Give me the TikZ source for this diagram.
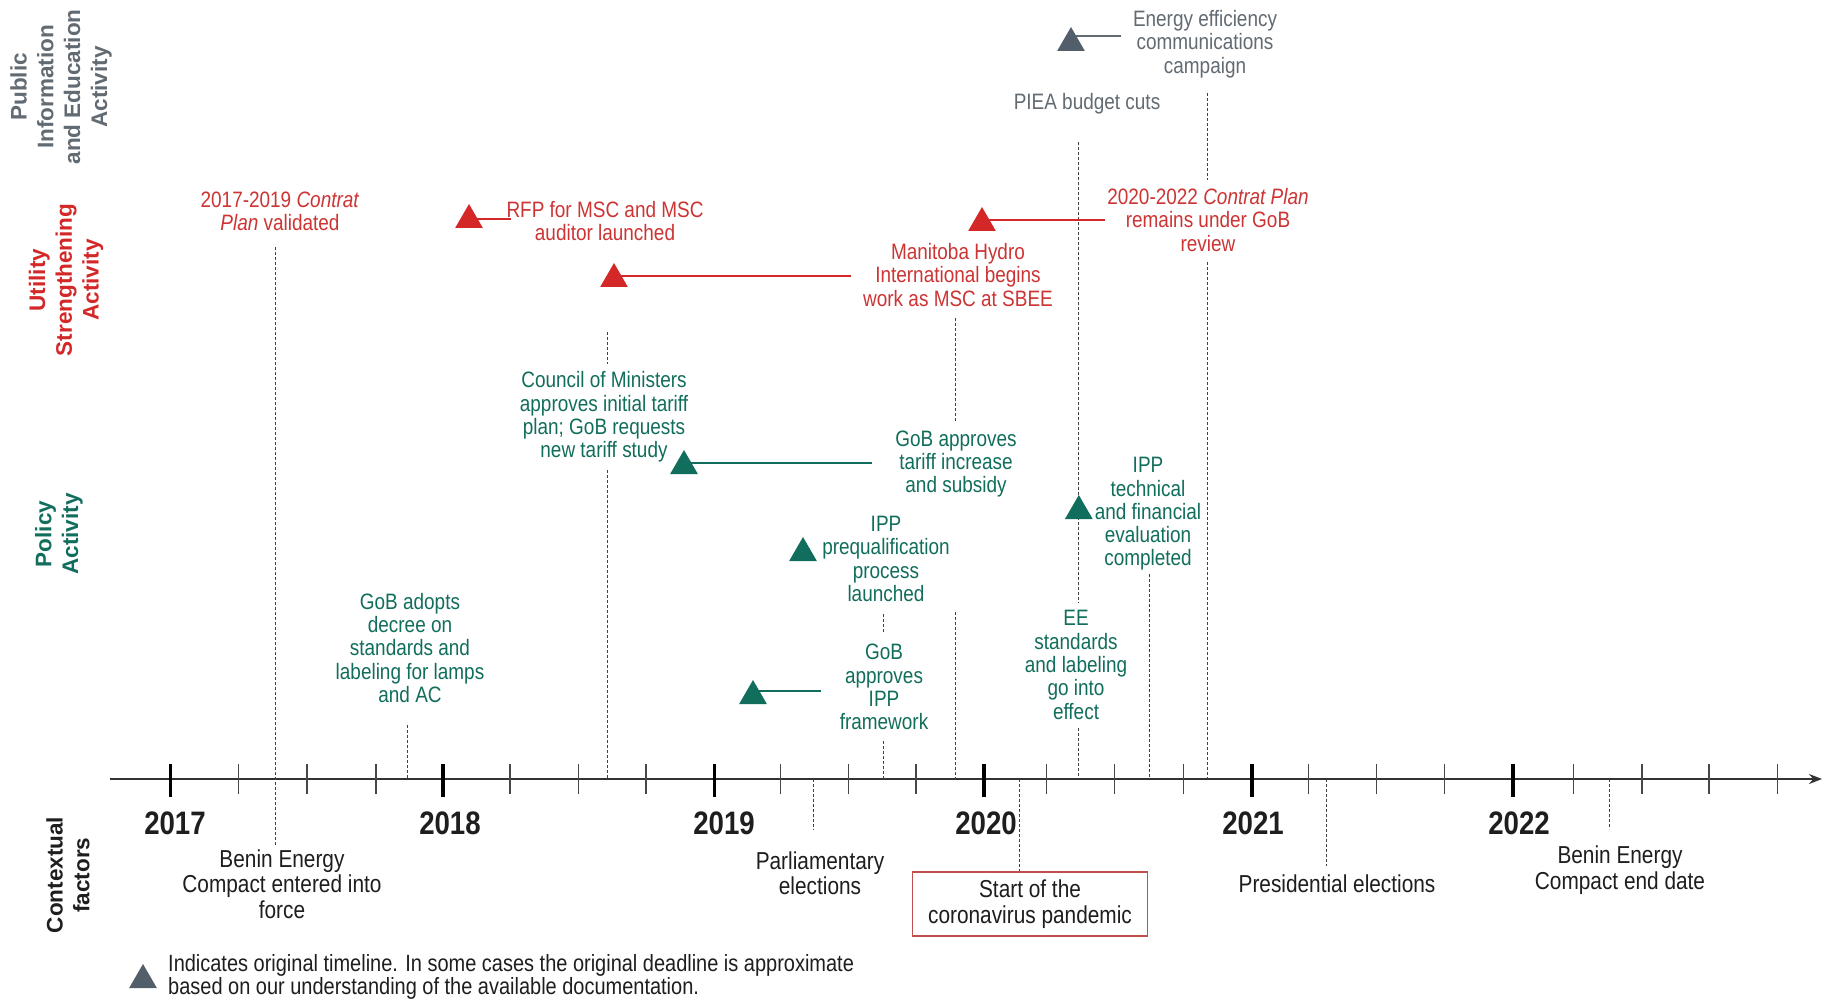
\documentclass[tikz,border=0pt]{standalone}
\usepackage{fontspec}
\setmainfont[FakeStretch=0.85]{Liberation Sans}
\newfontfamily\lanefont{Liberation Sans}
\usetikzlibrary{shapes.geometric,arrows.meta}
\definecolor{cred}{RGB}{212,40,40}
\definecolor{ctred}{RGB}{205,52,52}
\definecolor{cgreen}{RGB}{18,110,92}
\definecolor{cgray}{RGB}{98,106,114}
\definecolor{cgraytri}{RGB}{82,94,106}
\definecolor{boxred}{RGB}{192,80,77}
\definecolor{ctext}{RGB}{30,30,30}
\tikzset{
  ev/.style={align=center, inner sep=0pt, font=\fontsize{22.3}{23.3}\selectfont},
  evred/.style={ev, text=ctred},
  evgreen/.style={ev, text=cgreen},
  evgray/.style={ev, text=cgray},
  ctx/.style={align=center, inner sep=0pt, text=ctext, font=\fontsize{24.5}{25.5}\selectfont},
  year/.style={inner sep=0pt, text=ctext, font=\bfseries\fontsize{32.5}{34}\selectfont},
  lane/.style={rotate=90, align=center, inner sep=0pt, font=\lanefont\bfseries\fontsize{22.5}{26.8}\selectfont},
  tri/.style={regular polygon, regular polygon sides=3, minimum size=32pt, inner sep=0pt, draw=none},
  vdash/.style={draw=black!75, line width=1pt, dash pattern=on 3pt off 2pt},
  link/.style={line width=1.6pt},
  major/.style={line width=3.6pt, draw=black},
  minor/.style={line width=1.3pt, draw=black!72},
}
\begin{document}
\begin{tikzpicture}[x=1pt,y=-1pt]
\useasboundingbox (0,0) rectangle (1828,1000);
\fill[white] (0,0) rectangle (1828,1000);

% lane labels
\node[lane, text=cgray] (lpub) at (61,87) {Public\\Information\\and Education\\Activity};
\node[lane, text=cred] (lutil) at (66,280) {Utility\\Strengthening\\Activity};
\node[lane, text=cgreen] (lpol) at (59,534) {Policy\\Activity};
\node[lane, text=ctext] (lctx) at (68,875) {Contextual\\factors};

% axis
\coordinate (axs) at (110,779);
\coordinate (axe) at (1822,779);
\draw[line width=2pt, draw=black!80, -{Stealth[length=13pt,width=10pt]}] (axs) -- (axe);
\foreach \x in {238.7,307,375.9,509.9,578.7,646,780.7,848.7,915.9,1046.4,1114.4,1183.2,1308.6,1376.4,1444.8,1573.4,1642.1,1709.1,1777.4}
  \draw[minor] (\x,764) -- (\x,794);
\foreach \x in {170.3,443.1,714.6,983.9,1252,1513.1}
  \draw[major] (\x,764) -- (\x,797);

% years
\node[year] (y17) at (175,823) {2017};
\node[year] (y18) at (450,823) {2018};
\node[year] (y19) at (724,823) {2019};
\node[year] (y20) at (986,823) {2020};
\node[year] (y21) at (1253,823) {2021};
\node[year] (y22) at (1519,823) {2022};

% event texts
\node[evgray] (ee) at (1205,44) {Energy efficiency\\communications\\campaign};
\node[evgray] (piea) at (1087,104) {PIEA budget cuts};
\node[evred] (cp17) at (280,211) {2017-2019 \textit{Contrat}\\\textit{Plan} validated};
\node[evred] (rfp) at (605,221) {RFP for MSC and MSC\\auditor launched};
\node[evred] (mhi) at (958,275) {Manitoba Hydro\\International begins\\work as MSC at SBEE};
\node[evred] (cp20) at (1208,220) {2020-2022 \textit{Contrat Plan}\\remains under GoB\\review};
\node[evgreen] (cm) at (604,417) {Council of Ministers\\approves initial tariff\\plan; GoB requests\\new tariff study};
\node[evgreen] (tariff) at (956,464) {GoB approves\\tariff increase\\and subsidy};
\node[evgreen] (ippq) at (886,559) {IPP\\prequalification\\process\\launched};
\node[evgreen] (ippf) at (884,687) {GoB\\approves\\IPP\\framework};
\node[evgreen] (decree) at (410,648) {GoB adopts\\decree on\\standards and\\labeling for lamps\\and AC};
\node[evgreen] (ippt) at (1148,514) {IPP\\technical\\and financial\\evaluation\\completed};
\node[evgreen] (eest) at (1076,665) {EE\\standards\\and labeling\\go into\\effect};

% contextual texts
\node[ctx] (bec) at (282,884) {Benin Energy\\Compact entered into\\force};
\node[ctx] (parl) at (820,873) {Parliamentary\\elections};
\node[ctx, draw=boxred, line width=1.5pt, minimum width=235pt, minimum height=64pt] (covid) at (1030,904) {Start of the\\coronavirus pandemic};
\node[ctx] (pres) at (1337,884) {Presidential elections};
\node[ctx] (bend) at (1620,870) {Benin Energy\\Compact end date};

% dashed leader lines
\coordinate (d1a) at (275.8,247); \coordinate (d1b) at (275.8,845);
\draw[vdash] (d1a) -- (d1b);
\coordinate (d2a) at (407.5,725); \coordinate (d2b) at (407.5,779);
\draw[vdash] (d2a) -- (d2b);
\coordinate (d3a) at (607.2,332); \coordinate (d3b) at (607.2,364);
\draw[vdash] (d3a) -- (d3b);
\coordinate (d3c) at (607.2,470); \coordinate (d3d) at (607.2,779);
\draw[vdash] (d3c) -- (d3d);
\coordinate (d4a) at (813,779); \coordinate (d4b) at (813,830);
\draw[vdash] (d4a) -- (d4b);
\coordinate (d5a) at (883.5,614); \coordinate (d5b) at (883.5,633);
\draw[vdash] (d5a) -- (d5b);
\coordinate (d5c) at (883.5,741); \coordinate (d5d) at (883.5,779);
\draw[vdash] (d5c) -- (d5d);
\coordinate (d6a) at (955,318); \coordinate (d6b) at (955,422);
\draw[vdash] (d6a) -- (d6b);
\coordinate (d6c) at (955,612); \coordinate (d6d) at (955,779);
\draw[vdash] (d6c) -- (d6d);
\coordinate (d7a) at (1019.5,779);
\draw[vdash] (d7a) -- (d7a |- covid.north);
\coordinate (d8a) at (1078.8,142); \coordinate (d8b) at (1078.8,603);
\draw[vdash] (d8a) -- (d8b);
\coordinate (d8c) at (1078.8,728); \coordinate (d8d) at (1078.8,779);
\draw[vdash] (d8c) -- (d8d);
\coordinate (d9a) at (1149,574); \coordinate (d9b) at (1149,779);
\draw[vdash] (d9a) -- (d9b);
\coordinate (d10a) at (1207.7,93); \coordinate (d10b) at (1207.7,180);
\draw[vdash] (d10a) -- (d10b);
\coordinate (d10c) at (1207.7,262); \coordinate (d10d) at (1207.7,779);
\draw[vdash] (d10c) -- (d10d);
\coordinate (d11a) at (1326,779); \coordinate (d11b) at (1326,866);
\draw[vdash] (d11a) -- (d11b);
\coordinate (d12a) at (1609,779); \coordinate (d12b) at (1609,829);
\draw[vdash] (d12a) -- (d12b);

% triangle positions and their connectors
\coordinate (p1) at (1071,43);
\coordinate (p1e) at (1121,36);
\draw[link, draw=cgray] (p1 |- p1e) -- (p1e);
\coordinate (p2) at (469,220);
\coordinate (p2e) at (511,219);
\draw[link, draw=cred] (p2 |- p2e) -- (p2e);
\coordinate (p3) at (614,279);
\coordinate (p3e) at (851,276);
\draw[link, draw=cred] (p3 |- p3e) -- (p3e);
\coordinate (p4) at (982,223);
\coordinate (p4e) at (1105,220);
\draw[link, draw=cred] (p4 |- p4e) -- (p4e);
\coordinate (p5) at (684,466);
\coordinate (p5e) at (872,463);
\draw[link, draw=cgreen] (p5 |- p5e) -- (p5e);
\coordinate (p6) at (803,553);
\coordinate (p7) at (753,696);
\coordinate (p7e) at (821,691);
\draw[link, draw=cgreen] (p7 |- p7e) -- (p7e);
\coordinate (p8) at (1078.8,511);

\node[tri, fill=cgraytri] (t1) at (p1) {};
\node[tri, fill=cred] (t2) at (p2) {};
\node[tri, fill=cred] (t3) at (p3) {};
\node[tri, fill=cred] (t4) at (p4) {};
\node[tri, fill=cgreen] (t5) at (p5) {};
\node[tri, fill=cgreen] (t6) at (p6) {};
\node[tri, fill=cgreen] (t7) at (p7) {};
\node[tri, fill=cgreen] (t8) at (p8) {};

% legend
\node[tri, fill=cgraytri] (lt) at (143,980) {};
\node[anchor=west, align=left, inner sep=0pt, text=ctext, font=\fontsize{23.5}{23.5}\selectfont] (leg) at (168,977) {Indicates original timeline. In some cases the original deadline is approximate\\based on our understanding of the available documentation.};
\end{tikzpicture}
\end{document}
